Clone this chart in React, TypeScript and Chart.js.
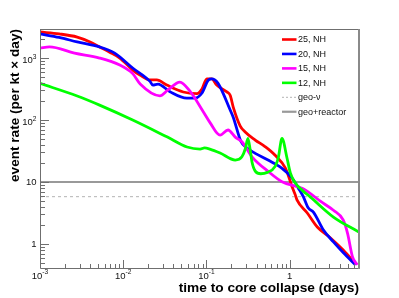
import React, { useEffect, useRef } from 'react';
import { Chart, registerables } from 'chart.js';

Chart.register(...registerables);

// ---- axis ranges ----
const X_MIN = 0.001;
const X_MAX = 6.82;
const Y_MIN = 0.41;
const Y_MAX = 2940;

// ---- series: time to core collapse (days) / event rate ----
const t25 = [0.001, 0.0017, 0.0028, 0.004, 0.0052, 0.0068, 0.0091, 0.013, 0.0159, 0.021, 0.0253, 0.0334, 0.0527, 0.077, 0.088, 0.101, 0.116, 0.133, 0.176, 0.193, 0.21, 0.255, 0.29, 0.386, 0.51, 0.67, 0.89, 0.96, 1.07, 1.17, 1.23, 1.63, 2.15, 3.1, 4.4, 6.2];
const rate25 = [2630, 2450, 2180, 1820, 1510, 1250, 1000, 640, 531, 443, 443, 366, 283, 266, 312, 461, 461, 366, 284, 251, 162, 80, 64.7, 47.6, 37, 27, 16.8, 13, 8.4, 6.2, 5.1, 3.16, 1.88, 1.25, 0.8, 0.48];

const t20 = [0.001, 0.0017, 0.0028, 0.0052, 0.0079, 0.013, 0.021, 0.0227, 0.0262, 0.0365, 0.058, 0.073, 0.088, 0.106, 0.116, 0.138, 0.193, 0.21, 0.26, 0.31, 0.386, 0.55, 0.81, 1.07, 1.27, 1.46, 1.68, 1.93, 2.55, 3.36, 4.43, 6.2];
const rate20 = [2450, 2150, 1820, 1510, 1200, 690, 420, 366, 380, 286, 225, 225, 270, 443, 461, 390, 145, 111, 45, 35, 29, 22.6, 16.6, 11.6, 8, 5.8, 3.8, 3.28, 1.68, 1.08, 0.72, 0.46];

const t15 = [0.001, 0.0013, 0.0026, 0.0052, 0.0091, 0.013, 0.016, 0.0276, 0.034, 0.048, 0.064, 0.092, 0.111, 0.146, 0.182, 0.222, 0.267, 0.353, 0.56, 0.81, 1.41, 1.78, 2.34, 3.36, 4.4, 4.96, 5.7, 6.5];
const rate15 = [1450, 1510, 1200, 1000, 770, 560, 380, 245, 300, 410, 286, 135, 90, 57, 69, 53, 44.7, 25.5, 14.6, 10.1, 7.9, 6.5, 4.9, 3.5, 2.44, 1.5, 0.62, 0.46];

const t12 = [0.001, 0.0028, 0.0052, 0.013, 0.034, 0.0586, 0.084, 0.095, 0.11, 0.146, 0.222, 0.267, 0.295, 0.315, 0.336, 0.353, 0.386, 0.45, 0.54, 0.67, 0.73, 0.81, 0.93, 1.02, 1.17, 1.41, 1.78, 3.36, 6.8];
const rate12 = [390, 244, 174, 100, 53, 36.7, 34, 35.5, 34, 29.4, 22.6, 25.5, 35, 50.6, 32.8, 21, 15, 13.6, 14.3, 17.9, 24.4, 50.6, 24.4, 14, 9.6, 7.4, 5.7, 2.72, 1.56];

const geoNuLevel = 5.8;
const geoReactorLevel = 10;

const seriesLabels = ['25, NH', '20, NH', '15, NH', '12, NH', 'geo-\u03bd', 'geo+reactor'];

// ---- tick labels ----
const xTickValues = [0.001, 0.01, 0.1, 1];
const xTickBases = ['10', '10', '10', '1'];
const xTickExps = ['-3', '-2', '-1', ''];
const yTickValues = [1, 10, 100, 1000];
const yTickBases = ['1', '10', '10', '10'];
const yTickExps = ['', '', '2', '3'];

const FONT = '"Liberation Sans", Arial, Helvetica, sans-serif';
const AXIS_COLOR = '#6f6f6f';

const pts = (xs: number[], ys: number[]) => xs.map((x, i) => ({ x, y: ys[i] }));

function drawPow(ctx: CanvasRenderingContext2D, base: string, exp: string, x: number, y: number, align: 'center' | 'right') {
  const bFont = `9.5px ${FONT}`;
  const eFont = `6.6px ${FONT}`;
  ctx.font = bFont;
  const bw = ctx.measureText(base).width;
  ctx.font = eFont;
  const ew = exp ? ctx.measureText(exp).width : 0;
  const total = bw + ew;
  const x0 = align === 'center' ? x - total / 2 : x - total;
  ctx.textAlign = 'left';
  ctx.textBaseline = 'alphabetic';
  ctx.font = bFont;
  ctx.fillText(base, x0, y);
  if (exp) {
    ctx.font = eFont;
    ctx.fillText(exp, x0 + bw, y - 4.4);
  }
}

const rootFrame = {
  id: 'rootFrame',
  afterDatasetsDraw(chart: any) {
    const { ctx, chartArea: a, scales } = chart;
    const xs = scales.x;
    const ys = scales.y;
    ctx.save();
    ctx.strokeStyle = AXIS_COLOR;
    ctx.lineWidth = 1;
    // frame
    ctx.beginPath();
    ctx.moveTo(a.left + 0.5, a.top + 0.5);
    ctx.lineTo(a.right, a.top + 0.5);
    ctx.moveTo(a.left + 0.5, a.top);
    ctx.lineTo(a.left + 0.5, a.bottom + 0.5);
    ctx.lineTo(a.right, a.bottom + 0.5);
    ctx.stroke();
    ctx.lineWidth = 2;
    ctx.strokeStyle = '#8a8a8a';
    ctx.beginPath();
    ctx.moveTo(a.right, a.top);
    ctx.lineTo(a.right, a.bottom + 1);
    ctx.stroke();

    // ticks
    ctx.strokeStyle = AXIS_COLOR;
    ctx.lineWidth = 1;
    ctx.beginPath();
    for (let e = -3; e <= 0; e++) {
      for (let m = 1; m <= 9; m++) {
        const v = m * Math.pow(10, e);
        if (v < X_MIN * 0.999 || v > X_MAX) continue;
        const px = Math.round(xs.getPixelForValue(v)) + 0.5;
        const len = m === 1 ? 8 : 4;
        ctx.moveTo(px, a.bottom);
        ctx.lineTo(px, a.bottom - len);
      }
    }
    for (let e = -1; e <= 3; e++) {
      for (let m = 1; m <= 9; m++) {
        const v = m * Math.pow(10, e);
        if (v < Y_MIN || v > Y_MAX) continue;
        const py = Math.round(ys.getPixelForValue(v)) + 0.5;
        const len = m === 1 ? 9 : 5;
        ctx.moveTo(a.left, py);
        ctx.lineTo(a.left + len, py);
      }
    }
    ctx.stroke();

    // tick labels
    ctx.fillStyle = '#111';
    xTickValues.forEach((v, i) => {
      drawPow(ctx, xTickBases[i], xTickExps[i], xs.getPixelForValue(v), a.bottom + 10.5, 'center');
    });
    yTickValues.forEach((v, i) => {
      const py = ys.getPixelForValue(v);
      drawPow(ctx, yTickBases[i], yTickExps[i], 36.5, py + (yTickExps[i] ? 5.3 : 3.4), 'right');
    });

    // legend
    const ds = chart.data.datasets;
    const rowY0 = 39.5;
    const rowStep = 14.45;
    ds.forEach((d: any, i: number) => {
      const y = rowY0 + i * rowStep;
      ctx.save();
      ctx.strokeStyle = d.borderColor;
      ctx.lineWidth = i < 4 ? 2.6 : (i === 4 ? 1 : 2.2);
      ctx.setLineDash(i === 4 ? [2, 2] : []);
      ctx.beginPath();
      ctx.moveTo(282, y);
      ctx.lineTo(296.5, y);
      ctx.stroke();
      ctx.restore();
      ctx.fillStyle = '#111';
      ctx.font = `9px ${FONT}`;
      ctx.textAlign = 'left';
      ctx.textBaseline = 'middle';
      ctx.fillText(d.label, 298, y + 0.5);
    });
    ctx.restore();
  },
};

export default function App() {
  const ref = useRef<HTMLCanvasElement>(null);
  useEffect(() => {
    document.body.style.margin = '0';
    const canvas = ref.current;
    if (!canvas) return;
    const line = (label: string, data: any[], color: string, order: number) => ({
      label,
      data,
      borderColor: color,
      backgroundColor: color,
      borderWidth: 2.8,
      pointRadius: 0,
      fill: false,
      cubicInterpolationMode: 'monotone' as const,
      order,
    });
    const chart = new Chart(canvas, {
      type: 'line',
      data: {
        datasets: [
          line(seriesLabels[0], pts(t25, rate25), '#ff0000', 4),
          line(seriesLabels[1], pts(t20, rate20), '#0000ff', 3),
          line(seriesLabels[2], pts(t15, rate15), '#ff00ff', 2),
          line(seriesLabels[3], pts(t12, rate12), '#00ff00', 1),
          {
            label: seriesLabels[4],
            data: pts([X_MIN, X_MAX], [geoNuLevel, geoNuLevel]),
            borderColor: '#b4b4b4',
            borderWidth: 1,
            borderDash: [3, 3],
            pointRadius: 0,
            order: 10,
          } as any,
          {
            label: seriesLabels[5],
            data: pts([X_MIN, X_MAX], [geoReactorLevel, geoReactorLevel]),
            borderColor: '#999999',
            borderWidth: 2,
            pointRadius: 0,
            order: 9,
          } as any,
        ],
      },
      options: {
        animation: false,
        responsive: false,
        devicePixelRatio: 1,
        layout: { padding: { top: 29, right: 40, left: 0, bottom: 0 } },
        plugins: { legend: { display: false }, tooltip: { enabled: false } },
        scales: {
          x: {
            type: 'logarithmic',
            min: X_MIN,
            max: X_MAX,
            grid: { display: false },
            border: { display: false },
            ticks: { display: false },
            title: {
              display: true,
              text: 'time to core collapse (days)',
              align: 'end',
              color: '#000',
              font: { family: FONT, size: 13.7, weight: 'bold' },
              padding: { top: 0, bottom: 1.5 },
            },
            afterFit: (s: any) => { s.height = 30; },
          },
          y: {
            type: 'logarithmic',
            min: Y_MIN,
            max: Y_MAX,
            grid: { display: false },
            border: { display: false },
            ticks: { display: false },
            title: {
              display: true,
              text: 'event rate (per kt \u00d7 day)',
              align: 'end',
              color: '#000',
              font: { family: FONT, size: 13.6, weight: 'bold' },
              padding: { top: 7, bottom: 0 },
            },
            afterFit: (s: any) => { s.width = 40; },
          },
        },
      } as any,
      plugins: [rootFrame],
    });
    return () => chart.destroy();
  }, []);
  return (
    <div style={{ position: 'fixed', left: 0, top: 0, width: 399, height: 298, background: '#fff' }}>
      <canvas ref={ref} width={399} height={298} style={{ display: 'block', width: 399, height: 298 }} />
    </div>
  );
}
